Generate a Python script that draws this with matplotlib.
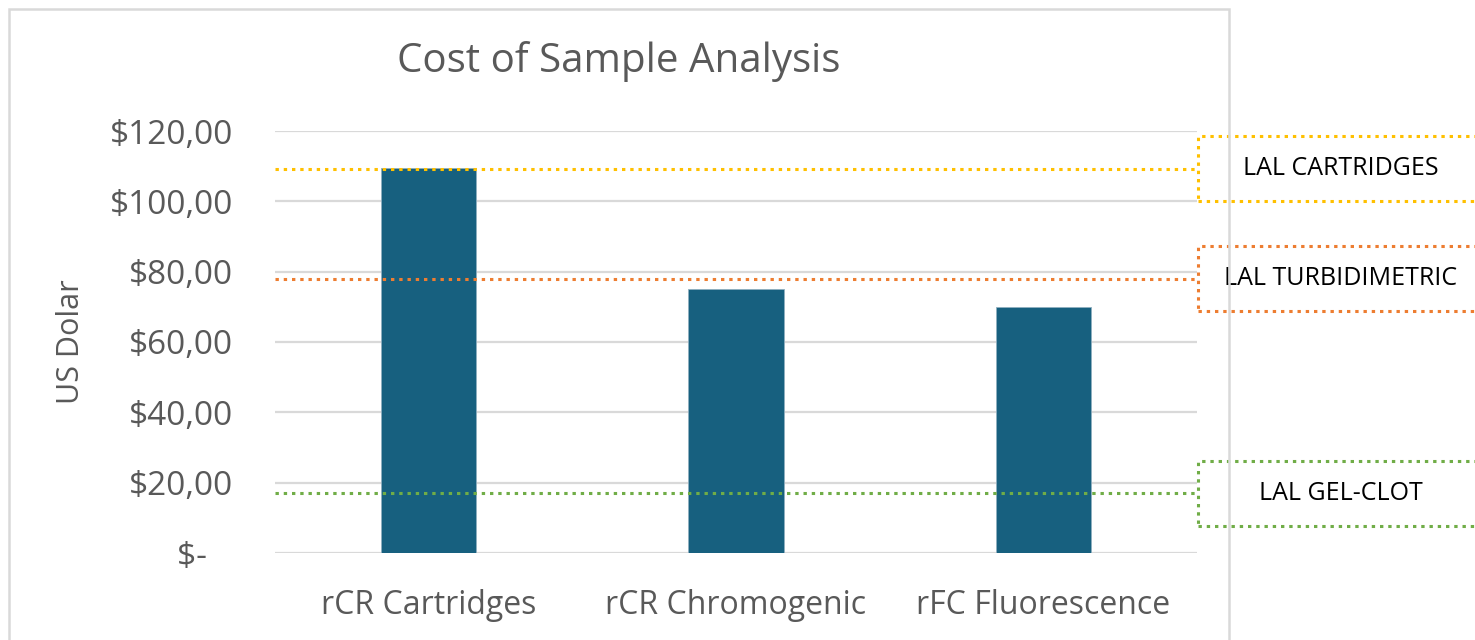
import matplotlib.pyplot as plt
from matplotlib.patches import Rectangle
from matplotlib.transforms import blended_transform_factory

# data
categorias = ["rCR Cartridges", "rCR Chromogenic", "rFC Fluorescence"]
costos = [109.5, 75, 70]
lal_nombres = ["LAL CARTRIDGES", "LAL TURBIDIMETRIC", "LAL GEL-CLOT"]
lal_costos = [109.3, 78, 17]
lal_colores = ["#FFC000", "#ED7D31", "#70AD47"]
yticks = [0, 20, 40, 60, 80, 100, 120]
yticklabels = ["$-   ", "$20,00", "$40,00", "$60,00", "$80,00", "$100,00", "$120,00"]

plt.rcParams['font.family'] = ['Open Sans', 'DejaVu Sans']
W, H = 1475, 640
fig = plt.figure(figsize=(W / 100, H / 100), dpi=100)
gris = "#595959"

# borde del grafico
fig.patches.append(Rectangle((9 / W, -0.05), (1229 - 9) / W, 1 - 9 / H + 0.05,
                             transform=fig.transFigure, fill=False,
                             edgecolor="#D9D9D9", lw=1.8, zorder=0))

ax = fig.add_axes([275 / W, 1 - 553 / H, (1197 - 275) / W, (553 - 131) / H])
x = range(len(categorias))
ax.bar(x, costos, width=0.31, color="#17607F", edgecolor="#8FAFC0", linewidth=0.6, zorder=2)
ax.set_xlim(-0.5, 2.5)
ax.set_ylim(0, 120)
ax.set_yticks(yticks)
ax.set_yticklabels(yticklabels)
ax.set_xticks(list(x))
ax.set_xticklabels(categorias)
ax.tick_params(axis='both', length=0, labelcolor=gris)
ax.tick_params(axis='y', pad=30, labelsize=24)
ax.tick_params(axis='x', pad=26, labelsize=23)
ax.grid(axis='y', color="#D9D9D9", lw=1.6, zorder=0)
ax.set_axisbelow(True)
for s in ax.spines.values():
    s.set_visible(False)
ax.set_ylabel("US Dolar", fontsize=22, color=gris)
ax.yaxis.set_label_coords((86 - 275) / (1197 - 275), 0.5)

fig.text(619 / W, 1 - 61 / H, "Cost of Sample Analysis", fontsize=29,
         color=gris, ha='center', va='center')

# lineas LAL y cajas
x_caja = (1198 - 275) / 307.3 - 0.5
trans = blended_transform_factory(fig.transFigure, ax.transData)
alto = 65 / ((553 - 131) / 120)
for nombre, valor, color in zip(lal_nombres, lal_costos, lal_colores):
    ax.hlines(valor, -0.5, x_caja, colors=color, lw=2.2,
              linestyles=(0, (1.1, 1.6)), clip_on=False, zorder=3)
    caja = Rectangle((1198 / W, valor - alto / 2), 400 / W, alto, transform=trans,
                     facecolor="white", edgecolor=color, lw=2.2,
                     linestyle=(0, (1.1, 1.6)), clip_on=False, zorder=4)
    ax.add_patch(caja)
    ax.text(1341 / W, valor, nombre, transform=trans, fontsize=18, color="black",
            ha='center', va='center', zorder=5, clip_on=False)

plt.savefig("out.png", dpi=100)
